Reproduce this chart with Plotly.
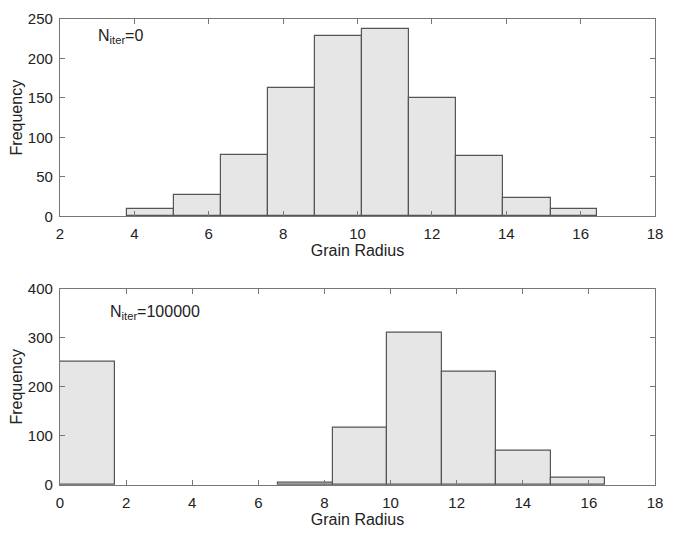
import plotly.graph_objects as go
from plotly.subplots import make_subplots

# Top histogram (N_iter = 0)
edges_top = [3.81, 5.07, 6.33, 7.59, 8.85, 10.12, 11.39, 12.65, 13.92, 15.19, 16.45]
counts_top = [9, 27, 78, 162, 228, 237, 150, 77, 23, 9]

# Bottom histogram (N_iter = 100000)
edges_bot = [0, 1.65, 3.3, 4.95, 6.6, 8.25, 9.9, 11.55, 13.2, 14.85, 16.5]
counts_bot = [251, 0, 0, 0, 4, 116, 311, 230, 70, 16]

xticks_top = [2, 4, 6, 8, 10, 12, 14, 16, 18]
yticks_top = [0, 50, 100, 150, 200, 250]
xticks_bot = [0, 2, 4, 6, 8, 10, 12, 14, 16, 18]
yticks_bot = [0, 100, 200, 300, 400]

FONT = "Liberation Sans, Arial, sans-serif"
FILL = "#e6e6e6"
EDGE = "#555555"
AX = "#777777"
TXT = "#222222"


def bars(edges, counts):
    c, w, y = [], [], []
    for a, b, n in zip(edges[:-1], edges[1:], counts):
        if n > 0:
            c.append((a + b) / 2)
            w.append(b - a)
            y.append(n)
    return c, w, y


fig = make_subplots(rows=2, cols=1)

c, w, y = bars(edges_top, counts_top)
fig.add_trace(go.Bar(x=c, y=y, width=w, marker=dict(color=FILL, line=dict(color=EDGE, width=1.2)),
                     showlegend=False, hoverinfo="skip"), row=1, col=1)
c, w, y = bars(edges_bot, counts_bot)
fig.add_trace(go.Bar(x=c, y=y, width=w, marker=dict(color=FILL, line=dict(color=EDGE, width=1.2)),
                     showlegend=False, hoverinfo="skip"), row=2, col=1)

axcommon = dict(showline=True, linecolor=AX, linewidth=1.2, mirror="ticks", ticks="inside",
                ticklen=5, tickcolor=AX, tickwidth=1, showgrid=False, zeroline=False,
                layer="above traces", tickfont=dict(family=FONT, size=15, color=TXT))
tfont = dict(family=FONT, size=16, color=TXT)

fig.update_xaxes(range=[2, 18], tickvals=xticks_top, row=1, col=1, domain=[0, 1], ticklabelstandoff=4,
                 title=dict(text="Grain Radius", font=tfont, standoff=2), **axcommon)
fig.update_yaxes(range=[0, 250], tickvals=yticks_top, row=1, col=1, domain=[0.5765, 1], ticklabelstandoff=3,
                 title=dict(text="Frequency", font=tfont, standoff=1), **axcommon)
fig.update_xaxes(range=[0, 18], tickvals=xticks_bot, row=2, col=1, domain=[0, 1], ticklabelstandoff=4,
                 title=dict(text="Grain Radius", font=tfont, standoff=1), **axcommon)
fig.update_yaxes(range=[0, 400], tickvals=yticks_bot, row=2, col=1, domain=[0, 0.4214], ticklabelstandoff=3,
                 title=dict(text="Frequency", font=tfont, standoff=1), **axcommon)

fig.add_annotation(x=2.955, y=242.5, xref="x", yref="y", text="N<sub>iter</sub>=0", showarrow=False,
                   xanchor="left", yanchor="top", font=dict(family=FONT, size=16, color=TXT))
fig.add_annotation(x=1.46, y=375, xref="x2", yref="y2", text="N<sub>iter</sub>=100000", showarrow=False,
                   xanchor="left", yanchor="top", font=dict(family=FONT, size=16, color=TXT))

fig.update_layout(width=673, height=533, margin=dict(l=60, r=10, t=12, b=44),
                  plot_bgcolor="white", paper_bgcolor="white", bargap=0)

fig.write_html("out.html", config={"displayModeBar": False},
               post_script="document.body.style.margin='0';")
